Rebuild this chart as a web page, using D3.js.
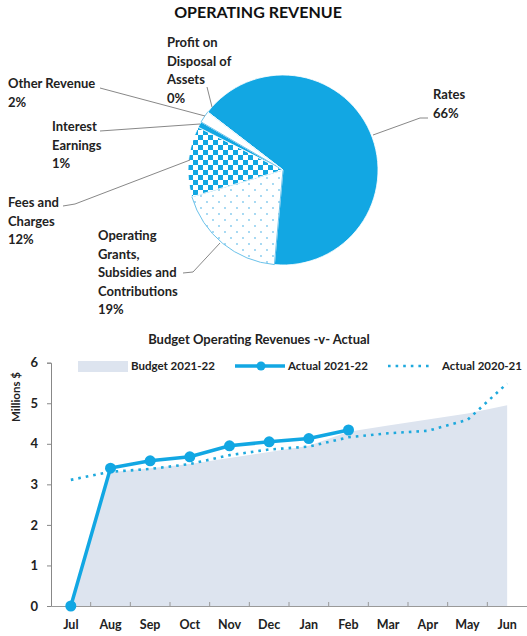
<!DOCTYPE html>
<html><head><meta charset="utf-8">
<script src="https://cdn.jsdelivr.net/npm/d3@7"></script>
<style>
html,body{margin:0;padding:0;background:#fff;}
svg{display:block;font-family:Lato,"Open Sans",sans-serif;}
</style></head>
<body>
<svg id="c" width="527" height="636"></svg>
<script>
// ---- Pie data ----
const pieLabels = ["Rates","Operating Grants, Subsidies and Contributions","Fees and Charges","Interest Earnings","Other Revenue","Profit on Disposal of Assets"];
const pieValues = [66, 19, 12, 1, 2, 0];
const pieLabelLines = [["Rates","66%"],["Operating","Grants,","Subsidies and","Contributions","19%"],["Fees and","Charges","12%"],["Interest","Earnings","1%"],["Other Revenue","2%"],["Profit on","Disposal of","Assets","0%"]];

// ---- Line chart data ----
const months = ["Jul","Aug","Sep","Oct","Nov","Dec","Jan","Feb","Mar","Apr","May","Jun"];
const budget2122 = [0, 3.3, 3.4, 3.5, 3.65, 3.8, 3.95, 4.3, 4.45, 4.6, 4.75, 4.95];
const actual2122 = [0, 3.40, 3.58, 3.68, 3.95, 4.05, 4.13, 4.34];
const actual2021 = [3.11, 3.31, 3.38, 3.50, 3.72, 3.86, 3.93, 4.16, 4.26, 4.32, 4.59, 5.49];
const yTicks = [0,1,2,3,4,5,6];

const BLUE = "#12a7e3";
const svg = d3.select("#c");
const defs = svg.append("defs");

// patterns
const chk = defs.append("pattern").attr("id","chk").attr("patternUnits","userSpaceOnUse").attr("width",10).attr("height",10);
chk.append("rect").attr("width",10).attr("height",10).attr("fill","#fff");
chk.append("rect").attr("width",5).attr("height",5).attr("fill",BLUE);
chk.append("rect").attr("x",5).attr("y",5).attr("width",5).attr("height",5).attr("fill",BLUE);

const dots = defs.append("pattern").attr("id","dots").attr("patternUnits","userSpaceOnUse").attr("width",12).attr("height",12);
dots.append("rect").attr("width",12).attr("height",12).attr("fill","#fff");
dots.append("circle").attr("cx",2).attr("cy",2).attr("r",0.9).attr("fill","#7fc9ee");
dots.append("circle").attr("cx",8).attr("cy",8).attr("r",0.9).attr("fill","#7fc9ee");

// ---- Pie ----
svg.append("text").attr("x",258).attr("y",18).attr("text-anchor","middle")
  .attr("font-size",16).attr("font-weight","bold").attr("fill","#111").text("OPERATING REVENUE");

const cx = 283, cy = 170, R = 95;
const start = -52.4*Math.PI/180;
const pie = d3.pie().sort(null).value(d=>d).startAngle(start).endAngle(start+2*Math.PI);
const arcs = pie(pieValues);
const arc = d3.arc().innerRadius(0).outerRadius(R);
const fills = [BLUE, "url(#dots)", "url(#chk)", BLUE, "#fff", "#fff"];
const pg = svg.append("g").attr("transform",`translate(${cx},${cy})`);
pg.selectAll("path").data(arcs).join("path")
  .attr("d",arc).attr("fill",(d,i)=>fills[i])
  .attr("stroke",(d,i)=> (i===1||i===4) ? "#6cc2ea" : "#fff")
  .attr("stroke-width",(d,i)=> (i===1||i===4) ? 1 : 0.8);

// labels
const labelPos = [
  {x:433,y:99, line:[[373,135],[420,118],[428,118]]},
  {x:98,y:240, line:[[183,273],[193,272],[220,243]]},
  {x:8,y:207, line:[[63,206],[75,204],[190,160]]},
  {x:52,y:131, line:[[100,131],[200,124]]},
  {x:8,y:88, line:[[100,88],[205,116]]},
  {x:167,y:47, line:[[207,87],[212,107]]}
];
const lg = svg.append("g");
labelPos.forEach((p,i)=>{
  lg.append("path").attr("d",d3.line()(p.line)).attr("fill","none").attr("stroke","#888").attr("stroke-width",1);
  const t = lg.append("text").attr("x",p.x).attr("y",p.y).attr("font-size",13).attr("font-weight","bold").attr("fill","#222");
  pieLabelLines[i].forEach((s,k)=>t.append("tspan").attr("x",p.x).attr("dy",k?18.5:0).text(s));
});

// ---- Line chart ----
svg.append("text").attr("x",259).attr("y",344).attr("text-anchor","middle")
  .attr("font-size",13).attr("font-weight","bold").attr("fill","#222").text("Budget Operating Revenues -v- Actual");

const x = d3.scaleBand().domain(months).range([51,527]);
const xc = m => x(m)+x.bandwidth()/2;
const y = d3.scaleLinear().domain([0,6]).range([606,362.7]);

// budget area
svg.append("path").datum(budget2122)
  .attr("d", d3.area().x((d,i)=>xc(months[i])).y0(y(0)).y1(d=>y(d)))
  .attr("fill","#dde4ef");

// axes
const yAx = svg.append("g").attr("transform","translate(51,0)")
  .call(d3.axisLeft(y).tickValues(yTicks).tickSize(4).tickFormat(d3.format("d")));
yAx.select(".domain").attr("stroke","#888");
yAx.selectAll(".tick line").attr("stroke","#888");
yAx.selectAll("text").attr("font-size",13).attr("font-weight","bold").attr("fill","#222").attr("font-family","Lato,sans-serif").attr("dx",-6);

const xAx = svg.append("g").attr("transform","translate(0,606)")
  .call(d3.axisBottom(x).tickSize(0).tickPadding(14));
xAx.select(".domain").attr("stroke","#999");
xAx.selectAll("text").attr("font-size",12.5).attr("font-weight","bold").attr("fill","#222").attr("font-family","Lato,sans-serif");
// small boundary ticks between months
svg.append("g").selectAll("line").data(months.slice(1)).join("line")
  .attr("x1",d=>x(d)).attr("x2",d=>x(d)).attr("y1",606).attr("y2",602).attr("stroke","#999");

svg.append("text").attr("transform","translate(20,397) rotate(-90)").attr("text-anchor","middle")
  .attr("font-size",11.5).attr("font-weight","bold").attr("fill","#222").text("Millions $");

// actual 2020-21 dotted
svg.append("path").datum(actual2021)
  .attr("d", d3.line().x((d,i)=>xc(months[i])).y(d=>y(d)))
  .attr("fill","none").attr("stroke","#1ea9dd").attr("stroke-width",2.6).attr("stroke-dasharray","2.6,5").attr("stroke-linecap","butt");

// actual 2021-22
svg.append("path").datum(actual2122)
  .attr("d", d3.line().x((d,i)=>xc(months[i])).y(d=>y(d)))
  .attr("fill","none").attr("stroke",BLUE).attr("stroke-width",3.5);
svg.append("g").selectAll("circle").data(actual2122).join("circle")
  .attr("cx",(d,i)=>xc(months[i])).attr("cy",d=>y(d)).attr("r",5.5).attr("fill",BLUE);

// legend
const L = svg.append("g");
L.append("rect").attr("x",78).attr("y",361).attr("width",50).attr("height",11).attr("fill","#dde4ef");
L.append("text").attr("x",131).attr("y",370).attr("font-size",11.5).attr("font-weight","bold").attr("fill","#222").text("Budget 2021-22");
L.append("line").attr("x1",235).attr("x2",285).attr("y1",366).attr("y2",366).attr("stroke",BLUE).attr("stroke-width",3.5);
L.append("circle").attr("cx",261).attr("cy",366).attr("r",4.5).attr("fill",BLUE);
L.append("text").attr("x",288).attr("y",370).attr("font-size",11.5).attr("font-weight","bold").attr("fill","#222").text("Actual 2021-22");
L.append("line").attr("x1",388).attr("x2",432).attr("y1",366).attr("y2",366).attr("stroke","#1ea9dd").attr("stroke-width",2.6).attr("stroke-dasharray","2.6,5");
L.append("text").attr("x",442).attr("y",370).attr("font-size",11.5).attr("font-weight","bold").attr("fill","#222").text("Actual 2020-21");
</script>
</body></html>
